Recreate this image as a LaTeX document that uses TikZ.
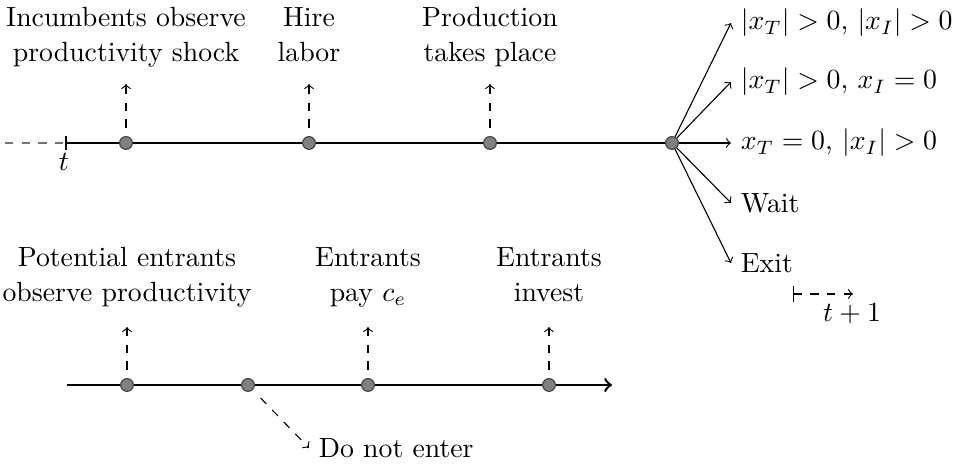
\documentclass[tikz,border=0pt]{standalone}
\usepackage{amsmath}
\begin{document}
\begin{tikzpicture}[x=0.36pt,y=-0.36pt,
  evt/.style={circle,draw=black!75,fill=black!50,minimum size=4.6pt,inner sep=0pt,line width=0.4pt},
  timeline/.style={line width=0.9pt},
  cue/.style={dashed,->,line width=0.4pt,shorten <=3pt},
  lbl/.style={align=center,inner sep=0pt,font=\fontsize{10}{12.5}\selectfont},
  branch/.style={->,line width=0.4pt},
  outc/.style={anchor=west},
]
\useasboundingbox (0,0) rectangle (963,465);

% ---- incumbents' period t ----
\coordinate (s0) at (5,143);
\coordinate (t0) at (66,143);
\coordinate (p4) at (672,143);
\draw[black!55,dashed,line width=0.5pt] (s0) -- (t0);
\draw[line width=0.4pt] (66,136) -- (66,150);
\draw[timeline] (t0) -- (p4);
\node (tl) at (64,162) {$t$};

\node[evt] (i1) at (126,143) {};
\node[evt] (i2) at (309,143) {};
\node[evt] (i3) at (490,143) {};
\node[evt] (i4) at (p4) {};

\node[lbl] (li1) at (126,37) {\strut Incumbents observe\\\strut productivity shock};
\node[lbl] (li2) at (309,37) {\strut Hire\\\strut labor};
\node[lbl] (li3) at (490,37) {\strut Production\\\strut takes place};

\draw[cue] (i1) -- ++(0,-59);
\draw[cue] (i2) -- ++(0,-59);
\draw[cue] (i3) -- ++(0,-59);

% ---- outcomes at the end of the period ----
\node[outc] (o1) at (731,23)  {$|x_T|>0$, $|x_I|>0$};
\node[outc] (o2) at (731,82)  {$|x_T|>0$, $x_I=0$};
\node[outc] (o3) at (731,143) {$x_T=0$, $|x_I|>0$};
\node[outc] (o4) at (731,203) {Wait};
\node[outc] (o5) at (731,263) {Exit};
\foreach \o in {o1,o2,o3,o4,o5}
  \draw[branch] (i4) -- (\o.west);

% ---- next period ----
\coordinate (n0) at (793,294);
\coordinate (n1) at (853,294);
\draw[dashed,|->,line width=0.4pt] (n0) -- (n1);
\node (nl) at (852,314) {$t+1$};

% ---- entrants' timeline ----
\coordinate (e0) at (67,385);
\coordinate (e1) at (612,385);
\draw[timeline,->] (e0) -- (e1);

\node[evt] (b1) at (127,385) {};
\node[evt] (b2) at (248,385) {};
\node[evt] (b3) at (368,385) {};
\node[evt] (b4) at (549,385) {};

\node[lbl] (lb1) at (127,277) {\strut Potential entrants\\\strut observe productivity};
\node[lbl] (lb3) at (368,277) {\strut Entrants\\\strut pay $c_e$};
\node[lbl] (lb4) at (549,277) {\strut Entrants\\\strut invest};

\draw[cue] (b1) -- ++(0,-58);
\draw[cue] (b3) -- ++(0,-58);
\draw[cue] (b4) -- ++(0,-58);

\node[anchor=west] (dne) at (309,448) {Do not enter};
\draw[dashed,->,line width=0.4pt,shorten <=4pt] (b2) -- (dne.west);
\end{tikzpicture}
\end{document}
